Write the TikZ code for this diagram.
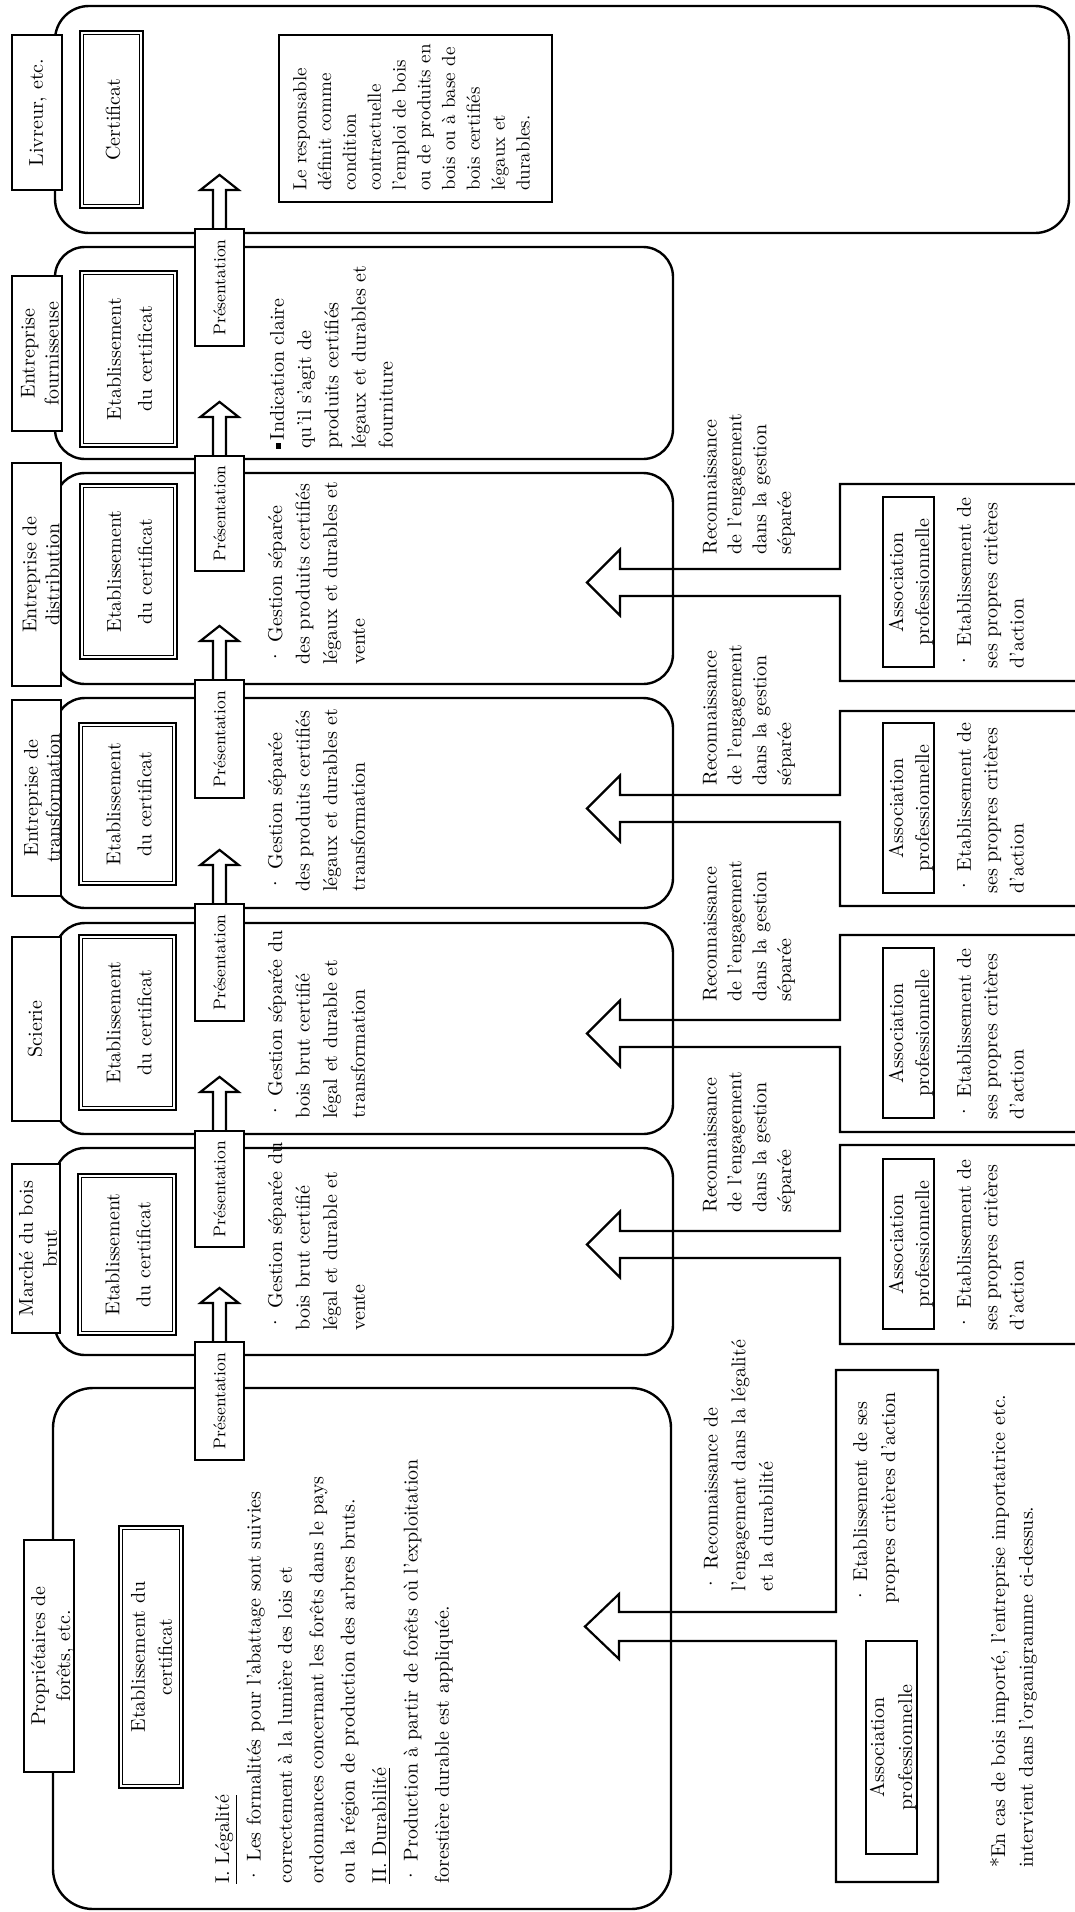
\documentclass[tikz,border=0pt]{standalone}
\usepackage{fontspec}
\usetikzlibrary{fit}
\begin{document}
\begin{tikzpicture}[x=0.5pt,y=-0.5pt,
  stg/.style={draw, line width=1.2pt, rounded corners=15pt, inner sep=0pt},
  hbox/.style={draw, fill=white, line width=1.1pt, inner sep=0pt},
  ebox/.style={draw, line width=1.3pt, inner sep=0pt},
  tbox/.style={draw, line width=1pt, inner sep=0pt},
  pbox/.style={draw, fill=white, line width=1.1pt, inner sep=0pt},
  lbl/.style={rotate=90, inner sep=0pt, align=center, font=\fontsize{10}{12}\selectfont},
  blk/.style={rotate=90, inner sep=0pt, anchor=west, align=left},
  barrow/.style={draw, line width=1.1pt, line join=miter},
  inner/.style={draw, line width=0.6pt},
]
\path[fill=white, use as bounding box] (0,0) rectangle (1075,1912);

% stage boxes
\node[stg, rounded corners=17pt, fit={(55,6) (1069,233)}] (sLiv) {};
\node[stg, fit={(55,247) (673,459)}] (sFou) {};
\node[stg, fit={(55,473) (673,684)}] (sDis) {};
\node[stg, fit={(55,698) (673,908)}] (sTra) {};
\node[stg, fit={(55,923) (673,1134)}] (sSci) {};
\node[stg, fit={(55,1148) (673,1355)}] (sMar) {};
\node[stg, rounded corners=20pt, fit={(53,1388) (671,1909)}] (sPro) {};

% association boxes with arrows
\draw[barrow] (1080,484) -- (840,484) -- (840,569) -- (620,569) -- (620,549.5) -- (587,582.5) -- (620,615.5) -- (620,596) -- (840,596) -- (840,681) -- (1080,681);
\draw[barrow] (1080,711) -- (840,711) -- (840,795) -- (620,795) -- (620,775.5) -- (587,808.5) -- (620,841.5) -- (620,822) -- (840,822) -- (840,906) -- (1080,906);
\draw[barrow] (1080,935) -- (840,935) -- (840,1020) -- (620,1020) -- (620,1000.5) -- (587,1033.5) -- (620,1066.5) -- (620,1047) -- (840,1047) -- (840,1132) -- (1080,1132);
\draw[barrow] (1080,1145) -- (840,1145) -- (840,1231) -- (620,1231) -- (620,1211.5) -- (587,1244.5) -- (620,1277.5) -- (620,1258) -- (840,1258) -- (840,1344) -- (1080,1344);
\draw[barrow] (938,1370) -- (836,1370) -- (836,1612) -- (619,1612) -- (619,1594) -- (585,1626.5) -- (619,1659) -- (619,1641) -- (836,1641) -- (836,1882) -- (938,1882) -- cycle;

% header boxes
\node[hbox, fit={(12,35) (62,190)}] (hLiv) {};
\node[lbl] (hLivT) at (38,112.5) {Livreur, etc.};
\node[hbox, fit={(12,276) (62,431)}] (hFou) {};
\node[lbl] (hFouT) at (40,353.5) {Entreprise\\fournisseuse};
\node[hbox, fit={(12,463) (61,686)}] (hDis) {};
\node[lbl, font=\fontsize{10}{11.5}\selectfont] (hDisT) at (41,574.5) {Entreprise de\\distribution};
\node[hbox, fit={(12,700) (61,896)}] (hTra) {};
\node[lbl, font=\fontsize{10}{11}\selectfont] (hTraT) at (42,798) {Entreprise de\\transformation};
\node[hbox, fit={(12,937) (61,1121)}] (hSci) {};
\node[lbl] (hSciT) at (35,1029) {Scierie};
\node[hbox, fit={(12,1164) (60,1333)}] (hMar) {};
\node[lbl] (hMarT) at (38,1248.5) {Marché du bois\\brut};
\node[hbox, fit={(24,1540) (74,1772)}] (hPro) {};
\node[lbl, font=\fontsize{10}{12.5}\selectfont] (hProT) at (52.5,1656) {Propriétaires de\\forêts, etc.};

% certificate boxes
\node[ebox, fit={(80,31) (143,208)}] (eLiv) {};
\draw[inner] ([xshift=2.5pt,yshift=-2.5pt]eLiv.north west) rectangle ([xshift=-2.5pt,yshift=2.5pt]eLiv.south east);
\node[lbl] (eLivT) at (113,119.5) {Certificat};
\node[ebox, fit={(80,271) (177,447)}] (eFou) {};
\draw[inner] ([xshift=2.5pt,yshift=-2.5pt]eFou.north west) rectangle ([xshift=-2.5pt,yshift=2.5pt]eFou.south east);
\node[lbl, font=\fontsize{10}{15.5}\selectfont] (eFouT) at (129.5,359) {Etablissement\\du certificat};
\node[ebox, fit={(80,484) (177,659)}] (eDis) {};
\draw[inner] ([xshift=2.5pt,yshift=-2.5pt]eDis.north west) rectangle ([xshift=-2.5pt,yshift=2.5pt]eDis.south east);
\node[lbl, font=\fontsize{10}{15.5}\selectfont] (eDisT) at (129.5,571.5) {Etablissement\\du certificat};
\node[ebox, fit={(79,723) (176,885)}] (eTra) {};
\draw[inner] ([xshift=2.5pt,yshift=-2.5pt]eTra.north west) rectangle ([xshift=-2.5pt,yshift=2.5pt]eTra.south east);
\node[lbl, font=\fontsize{10}{15.5}\selectfont] (eTraT) at (129,804) {Etablissement\\du certificat};
\node[ebox, fit={(79,935) (176,1110)}] (eSci) {};
\draw[inner] ([xshift=2.5pt,yshift=-2.5pt]eSci.north west) rectangle ([xshift=-2.5pt,yshift=2.5pt]eSci.south east);
\node[lbl, font=\fontsize{10}{15.5}\selectfont] (eSciT) at (129,1022.5) {Etablissement\\du certificat};
\node[ebox, fit={(78,1174) (176,1335)}] (eMar) {};
\draw[inner] ([xshift=2.5pt,yshift=-2.5pt]eMar.north west) rectangle ([xshift=-2.5pt,yshift=2.5pt]eMar.south east);
\node[lbl, font=\fontsize{10}{15.5}\selectfont] (eMarT) at (128,1254.5) {Etablissement\\du certificat};
\node[ebox, fit={(119,1526) (183,1788)}] (ePro) {};
\draw[inner] ([xshift=2.5pt,yshift=-2.5pt]ePro.north west) rectangle ([xshift=-2.5pt,yshift=2.5pt]ePro.south east);
\node[lbl, font=\fontsize{10}{13.5}\selectfont] (eProT) at (151.5,1657) {Etablissement du\\certificat};

% presentation boxes and arrows
\foreach \n/\t/\b in {p1/229/346, p2/456/571, p3/680/798, p4/904/1021, p5/1131/1247, p6/1342/1460}{
  \node[pbox, fit={(195,\t) (244,\b)}] (\n) {};
  \node[lbl, font=\fontsize{8.5}{10}\selectfont] (\n T) at (\n.center) {Présentation};
  \draw[barrow] ([xshift=-3.25pt]\n.north) -- ++(0,-38) -- ++(-12.5,0) -- ++(19,-15) -- ++(19,15) -- ++(-12.5,0) -- ++(0,38);
}

% livreur text box
\node[tbox, fit={(279,35) (552,202)}] (bLiv) {};
\node[blk, font=\fontsize{9.5}{12.4}\selectfont] (tLiv) at (411.5,191) {Le responsable\\définit comme\\condition\\contractuelle\\l'emploi de bois\\ou de produits en\\bois ou à base de\\bois certifiés\\légaux et\\durables.};

% stage texts
\node[blk, font=\fontsize{10}{13.6}\selectfont] (tFou) at (331.5,449) {\rule[1.6pt]{2.6pt}{2.6pt}\,Indication claire\\qu'il s'agit de\\produits certifiés\\légaux et durables et\\fourniture};
\node[blk, font=\fontsize{10}{13.8}\selectfont] (tDis) at (316.5,665) {· Gestion séparée\\des produits certifiés\\légaux et durables et\\vente};
\node[blk, font=\fontsize{10}{13.8}\selectfont] (tTra) at (316.5,892) {· Gestion séparée\\des produits certifiés\\légaux et durables et\\transformation};
\node[blk, font=\fontsize{10}{13.8}\selectfont] (tSci) at (316.5,1119) {· Gestion séparée du\\bois brut certifié\\légal et durable et\\transformation};
\node[blk, font=\fontsize{10}{13.8}\selectfont] (tMar) at (316.5,1331) {· Gestion séparée du\\bois brut certifié\\légal et durable et\\vente};

% proprietaires text
\node[blk, font=\fontsize{10}{15.7}\selectfont] (tLeg) at (334,1884) {\underline{I. Légalité}\\· Les formalités pour l'abattage sont suivies\\correctement à la lumière des lois et\\ordonnances concernant les forêts dans le pays\\ou la région de production des arbres bruts.\\\underline{II. Durabilité}\\· Production à partir de forêts où l'exploitation\\forestière durable est appliquée.};

% reconnaissance texts
\foreach \n/\y in {rA1/555, rA2/786, rA3/1002, rA4/1213}{
  \node[blk, font=\fontsize{10}{12.4}\selectfont] (\n) at (749,\y) {Reconnaissance\\de l'engagement\\dans la gestion\\séparée};
}
\node[blk, font=\fontsize{10}{13.8}\selectfont] (rA5) at (738.5,1592) {· Reconnaissance de\\l'engagement dans la légalité\\et la durabilité};

% association inner boxes
\foreach \n/\t/\b in {iA1/497/667, iA2/723/893, iA3/948/1118, iA4/1159/1329}{
  \node[tbox, fit={(883,\t) (934,\b)}] (\n) {};
  \node[lbl, font=\fontsize{10}{13}\selectfont] (\n T) at ([xshift=1.25pt]\n.center) {Association\\professionnelle};
}
\node[tbox, fit={(866,1641) (917,1854)}] (iA5) {};
\node[lbl, font=\fontsize{10}{14}\selectfont] (iA5T) at (893,1747.5) {Association\\professionnelle};

% association texts
\foreach \n/\y in {aA1/669, aA2/894, aA3/1120, aA4/1331}{
  \node[blk, font=\fontsize{10}{13.2}\selectfont] (\n) at (990.5,\y) {· Etablissement de\\ses propres critères\\d'action};
}
\node[blk, font=\fontsize{10}{14}\selectfont] (aA5) at (876,1604) {· Etablissement de ses\\propres critères d'action};

% footnote
\node[blk, font=\fontsize{10}{13.8}\selectfont] (foot) at (1013.5,1868) {*En cas de bois importé, l'entreprise importatrice etc.\\intervient dans l'organigramme ci-dessus.};
\end{tikzpicture}
\end{document}
